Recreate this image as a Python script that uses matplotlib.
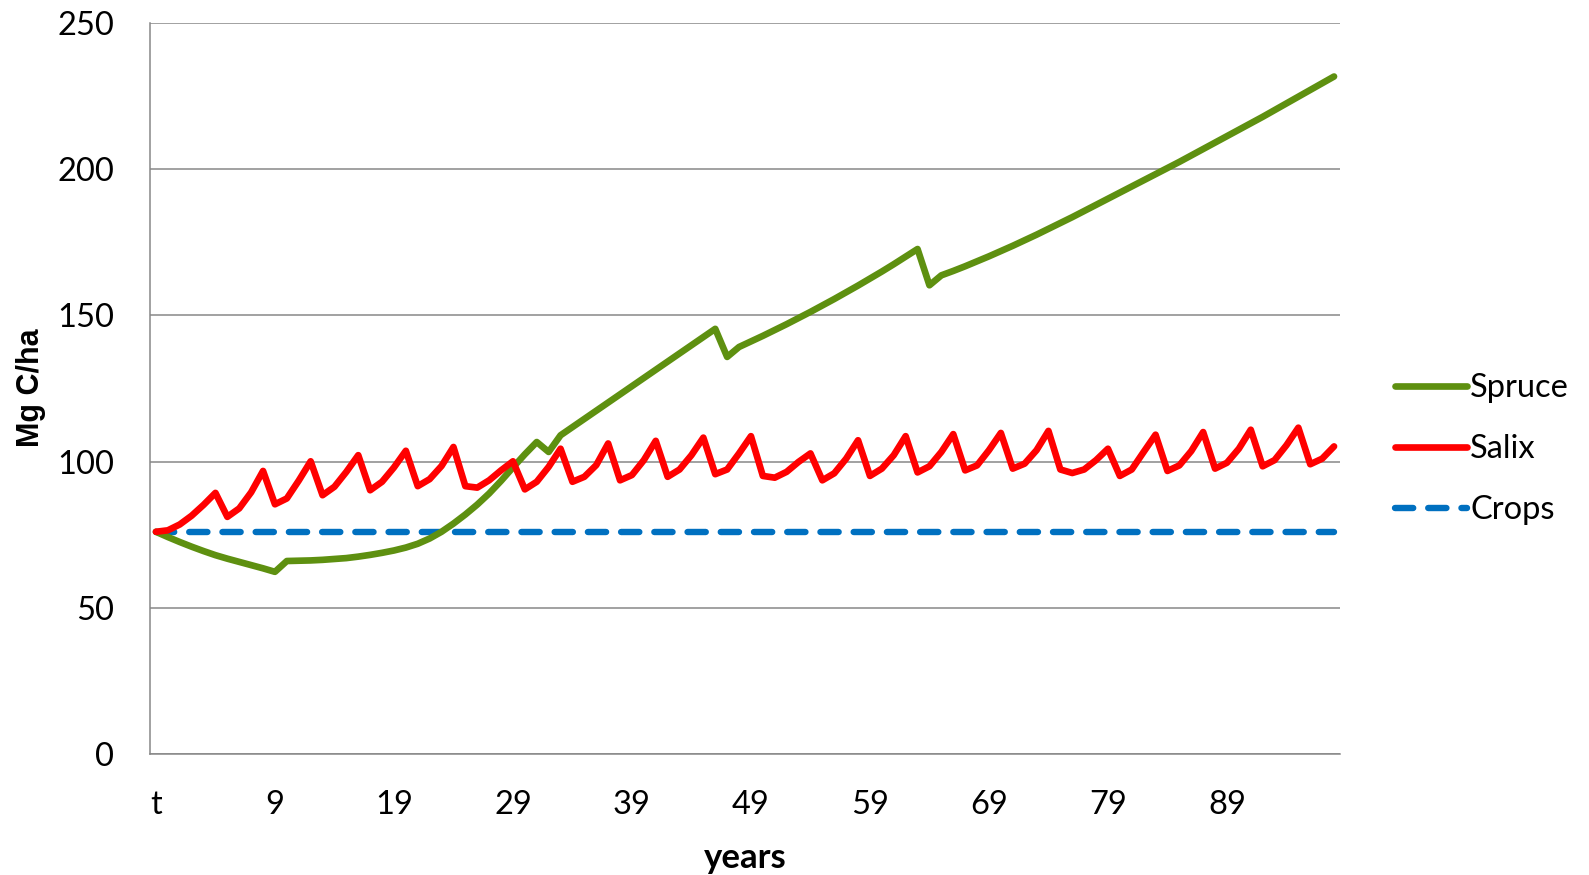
import numpy as np
import matplotlib
matplotlib.use('Agg')
import matplotlib.pyplot as plt

# carbon stock per year, Mg C/ha
years = ['t'] + [str(k) for k in range(0, 99)]
spruce = [76.0, 74.2, 72.5, 70.9, 69.4, 68.0, 66.8, 65.7, 64.6, 63.5,
          62.3, 66.0, 66.1, 66.2, 66.4, 66.7, 67.0, 67.5, 68.1, 68.8,
          69.6, 70.6, 71.9, 73.7, 76.0, 78.8, 81.9, 85.3, 89.1, 93.4,
          98.0, 102.5, 106.7, 103.3, 109.0, 111.8, 114.6, 117.4, 120.2, 123.0,
          125.8, 128.6, 131.4, 134.2, 137.0, 139.8, 142.6, 145.4, 135.8, 139.2,
          141.1, 143.0, 145.0, 147.0, 149.1, 151.2, 153.4, 155.6, 157.9, 160.2,
          162.6, 165.0, 167.5, 170.1, 172.7, 160.3, 163.7, 165.2, 166.8, 168.5,
          170.2, 172.0, 173.8, 175.7, 177.6, 179.6, 181.6, 183.6, 185.7, 187.8,
          189.9, 192.0, 194.1, 196.2, 198.3, 200.4, 202.5, 204.7, 206.9, 209.1,
          211.3, 213.5, 215.7, 217.9, 220.2, 222.5, 224.8, 227.1, 229.4, 231.7]
salix = [76.0, 76.5, 78.5, 81.5, 85.2, 89.3, 81.1, 84.0, 89.5, 96.8,
         85.4, 87.4, 93.5, 100.1, 88.5, 91.4, 96.5, 102.2, 90.2, 93.1,
         98.0, 103.7, 91.6, 94.0, 98.5, 105.0, 91.6, 91.1, 93.6, 97.0,
         100.1, 90.5, 93.1, 98.2, 104.4, 93.1, 94.8, 98.8, 106.2, 93.6,
         95.4, 100.5, 107.1, 94.8, 97.3, 102.2, 108.2, 95.7, 97.3, 102.8,
         108.7, 95.1, 94.5, 96.5, 99.9, 102.8, 93.6, 96.0, 101.0, 107.3,
         95.1, 97.6, 102.2, 108.7, 96.3, 98.4, 103.3, 109.4, 97.0, 98.7,
         103.9, 109.8, 97.6, 99.3, 103.9, 110.5, 97.3, 96.1, 97.3, 100.5,
         104.4, 95.1, 97.3, 103.3, 109.2, 96.8, 98.7, 103.6, 110.1, 97.6,
         99.6, 104.4, 110.9, 98.4, 100.5, 105.6, 111.6, 99.1, 101.0, 105.2]
crops = [76.0] * 100

fig = plt.figure(figsize=(15.89, 8.75), dpi=100)

# soft white-to-grey backdrop
bg = fig.add_axes([0, 0, 1, 1], zorder=-10)
t = np.linspace(0, 1, 400)
shade = np.where(t < 0.45, 1.0, 1.0 - 0.08 * ((t - 0.45) / 0.55) ** 1.1)
bg.imshow(np.dstack([shade, shade, shade])[:, :1, :].repeat(2, axis=1),
          aspect='auto', extent=[0, 1, 0, 1], origin='upper')
bg.axis('off')

ax = fig.add_axes([150 / 1589, 121 / 875, 1190 / 1589, 731 / 875])
ax.set_facecolor('none')
x = np.arange(len(years))

ax.plot(x, spruce, color='#5E9010', lw=4.8, solid_capstyle='round',
        solid_joinstyle='round', label='Spruce', zorder=3)
ax.plot(x, salix, color='#FF0000', lw=4.8, solid_capstyle='round',
        solid_joinstyle='round', label='Salix', zorder=3)
ax.plot(x, crops, color='#0070C0', lw=4.6, dashes=(2.85, 2.35),
        dash_capstyle='round', label='Crops', zorder=2)

ax.set_xlim(-0.5, len(years) - 0.5)
ax.set_ylim(0, 250)
ax.set_yticks(range(0, 251, 50))
ax.set_xticks(x[::10])
ax.set_xticklabels(years[::10])
ax.yaxis.grid(True, color='#878787', lw=1.1)
ax.set_axisbelow(True)
for s in ['top', 'right']:
    ax.spines[s].set_visible(False)
for s in ['left', 'bottom']:
    ax.spines[s].set_color('#878787')
    ax.spines[s].set_linewidth(1.1)
ax.tick_params(length=0, labelsize=23.5, pad=26)
ax.tick_params(axis='x', pad=26)
for lab in ax.get_xticklabels() + ax.get_yticklabels():
    lab.set_fontfamily('Lato')

ax.set_xlabel('years', fontsize=25, fontweight='bold', family='Lato', labelpad=16)
fig.text(31 / 1589, 1 - 388 / 875, 'Mg C/ha', rotation=90, fontsize=22,
         fontweight='bold', family='Liberation Sans', ha='center', va='center')

leg = ax.legend(loc='center left', bbox_to_anchor=(1395 / 1589, 1 - 449 / 875),
                bbox_transform=fig.transFigure, frameon=False,
                prop={'family': 'Lato', 'size': 23.5}, handlelength=2.2,
                handletextpad=0.1, labelspacing=0.95, borderpad=0,
                borderaxespad=0)

fig.savefig('out.png', dpi=100)
